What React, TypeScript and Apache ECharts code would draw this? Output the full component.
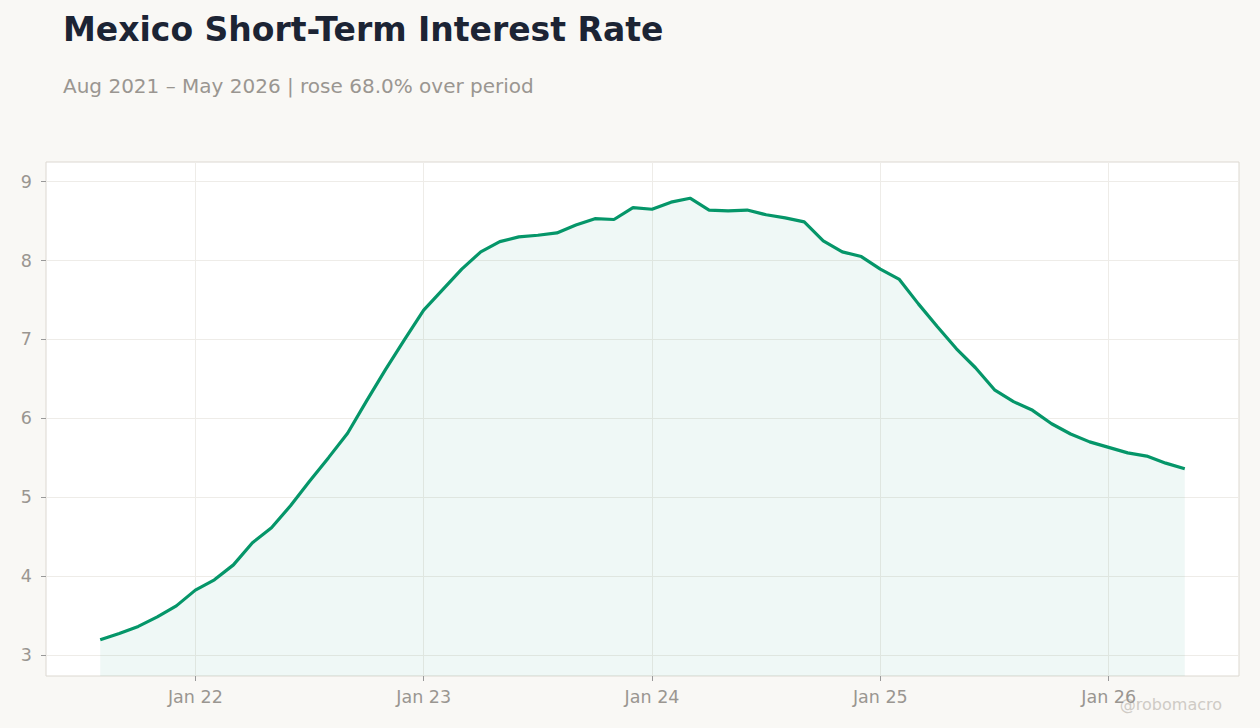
import * as echarts from "echarts";
import { useEffect, useRef } from "react";

// Monthly observations, Aug 2021 – May 2026
const months = [
  "2021-08", "2021-09", "2021-10", "2021-11", "2021-12",
  "2022-01", "2022-02", "2022-03", "2022-04", "2022-05", "2022-06",
  "2022-07", "2022-08", "2022-09", "2022-10", "2022-11", "2022-12",
  "2023-01", "2023-02", "2023-03", "2023-04", "2023-05", "2023-06",
  "2023-07", "2023-08", "2023-09", "2023-10", "2023-11", "2023-12",
  "2024-01", "2024-02", "2024-03", "2024-04", "2024-05", "2024-06",
  "2024-07", "2024-08", "2024-09", "2024-10", "2024-11", "2024-12",
  "2025-01", "2025-02", "2025-03", "2025-04", "2025-05", "2025-06",
  "2025-07", "2025-08", "2025-09", "2025-10", "2025-11", "2025-12",
  "2026-01", "2026-02", "2026-03", "2026-04", "2026-05",
];

const rates = [
  3.19, 3.27, 3.36, 3.48, 3.62,
  3.82, 3.95, 4.14, 4.42, 4.61, 4.89,
  5.2, 5.5, 5.81, 6.22, 6.62, 7.0,
  7.37, 7.63, 7.89, 8.11, 8.24, 8.3,
  8.32, 8.35, 8.45, 8.53, 8.52, 8.67,
  8.65, 8.74, 8.79, 8.64, 8.63, 8.64,
  8.58, 8.54, 8.49, 8.25, 8.11, 8.05,
  7.89, 7.76, 7.45, 7.16, 6.88, 6.64,
  6.36, 6.21, 6.1, 5.93, 5.8, 5.7,
  5.63, 5.56, 5.52, 5.43, 5.36,
];

const xTickYears = [2022, 2023, 2024, 2025, 2026];
const yTicks = [3, 4, 5, 6, 7, 8, 9];

const TITLE = "Mexico Short-Term Interest Rate";
const SUBTITLE = "Aug 2021 – May 2026 | rose 68.0% over period";
const WATERMARK = "@robomacro";

const FONT = "DejaVu Sans";
const GREEN = "#059669";
const MUTED = "#9a9691";

// "2022-03" -> 2022.1667
const toYear = (m: string) => {
  const [y, mo] = m.split("-").map(Number);
  return y + (mo - 1) / 12;
};

const Chart = () => {
  const chartRef = useRef<HTMLDivElement>(null);

  useEffect(() => {
    document.body.style.margin = "0";
    const chart = echarts.init(chartRef.current, null, { renderer: "svg" });

    const xs = months.map(toYear);
    const xPad = (xs[xs.length - 1] - xs[0]) * 0.05;
    const yLo = Math.min(...rates);
    const yHi = Math.max(...rates);
    const yPad = (yHi - yLo) * 0.082;

    const options = {
      animation: false,
      backgroundColor: "#f9f8f5",
      textStyle: { fontFamily: FONT },
      grid: {
        left: 46,
        right: 21,
        top: 162,
        bottom: 52,
        show: true,
        backgroundColor: "#ffffff",
        borderColor: "#dcd8d1",
        borderWidth: 1,
      },
      graphic: [
        {
          type: "text",
          left: 63,
          top: 13,
          style: {
            text: TITLE,
            font: `bold 33px "${FONT}"`,
            fill: "#1c2434",
          },
        },
        {
          type: "text",
          left: 63,
          top: 76,
          style: {
            text: SUBTITLE,
            font: `20px "${FONT}"`,
            fill: MUTED,
          },
        },
        {
          // the watermark sits over the last axis label, as in the source
          type: "text",
          right: 38,
          top: 696,
          style: {
            text: WATERMARK,
            font: `16px "${FONT}"`,
            fill: "#cfcbc5",
          },
        },
      ],
      xAxis: {
        type: "value",
        min: xs[0] - xPad,
        max: xs[xs.length - 1] + xPad,
        axisLine: { show: false },
        axisTick: {
          show: true,
          length: 5,
          customValues: xTickYears,
          lineStyle: { color: "#999" },
        },
        axisLabel: {
          customValues: xTickYears,
          margin: 12,
          fontSize: 17.5,
          color: MUTED,
          fontFamily: FONT,
          formatter: (v: number) => "Jan " + String(Math.round(v)).slice(2),
        },
        splitLine: { show: true, lineStyle: { color: "#eeece8", width: 1 } },
      },
      yAxis: {
        type: "value",
        min: yLo - yPad,
        max: yHi + yPad,
        axisLine: { show: false },
        axisTick: {
          show: true,
          length: 5,
          customValues: yTicks,
          lineStyle: { color: "#999" },
        },
        axisLabel: {
          customValues: yTicks,
          margin: 14,
          fontSize: 17.5,
          color: MUTED,
          fontFamily: FONT,
        },
        splitLine: { show: true, lineStyle: { color: "#eeece8", width: 1 } },
      },
      series: [
        {
          name: "Short-term rate",
          type: "line",
          data: xs.map((x, i) => [x, rates[i]]),
          showSymbol: false,
          symbol: "none",
          lineStyle: { color: GREEN, width: 3.2 },
          itemStyle: { color: GREEN },
          areaStyle: { color: "rgba(5,150,105,0.09)" },
        },
      ],
    };

    chart.setOption(options);

    const handleResize = () => chart.resize();
    window.addEventListener("resize", handleResize);

    return () => {
      window.removeEventListener("resize", handleResize);
      chart.dispose();
    };
  }, []);

  return <div ref={chartRef} style={{ width: "1260px", height: "728px" }} />;
};

export default function App() {
  return <Chart />;
}
